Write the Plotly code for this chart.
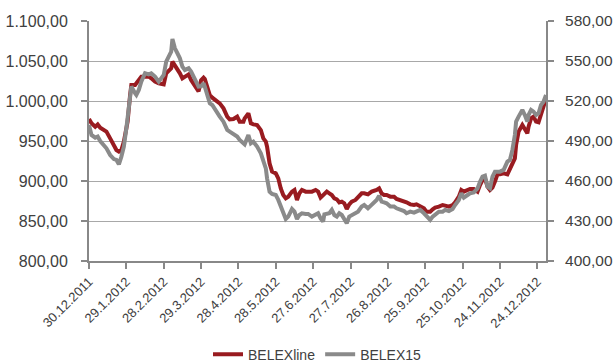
import pandas as pd
import plotly.graph_objects as go

# Trading-day offsets (days after 30.12.2011) and index closes
day_offsets = [
    0, 2, 5, 7, 9, 12, 14, 17, 20, 22, 24, 26, 28, 30, 31, 33, 34, 37, 38, 40,
    42, 45, 48, 50, 53, 56, 60, 62, 64, 66, 67, 69, 71, 73, 75, 77, 80, 82, 86, 88,
    90, 92, 93, 95, 97, 99, 102, 105, 108, 111, 113, 116, 119, 121, 124, 125, 128, 130, 132, 135,
    138, 140, 142, 143, 145, 147, 150, 152, 154, 156, 158, 160, 163, 165, 167, 169, 171, 174, 176, 179,
    182, 184, 186, 188, 189, 191, 193, 195, 197, 199, 201, 203, 205, 207, 209, 211, 214, 216, 219, 221,
    224, 227, 229, 231, 233, 235, 237, 239, 242, 245, 247, 250, 253, 255, 258, 261, 263, 266, 269, 271,
    274, 276, 278, 281, 284, 286, 289, 292, 294, 297, 299, 301, 304, 306, 309, 312, 314, 316, 318, 320,
    322, 324, 326, 328, 330, 333, 336, 338, 340, 342, 343, 345, 348, 350, 352, 353, 355, 357, 359, 361,
    363, 365, 366, 367,
]

belexline = [
    977.5, 972.1, 967.9, 970.8, 966.7, 963.7, 961.7, 953.3, 942.9, 938.7,
    936.7, 938.7, 949.2, 963.7, 974.2, 1007.5, 1020.0, 1020.0, 1022.1, 1024.2,
    1030.4, 1030.4, 1030.4, 1028.3, 1024.2, 1022.1, 1020.8, 1034.6, 1038.7, 1040.8,
    1049.2, 1045.0, 1040.8, 1034.6, 1028.3, 1030.4, 1033.3, 1026.3, 1017.9, 1012.0,
    1026.0, 1029.2, 1027.5, 1017.9, 1007.5, 1004.2, 1001.2, 997.1, 990.8, 980.4,
    977.1, 977.5, 980.4, 974.2, 974.2, 978.3, 984.6, 972.1, 970.8, 970.0,
    963.7, 953.3, 949.2, 942.9, 922.1, 911.7, 909.6, 903.3, 890.8, 882.5,
    878.3, 880.4, 886.7, 888.8, 876.3, 884.6, 888.8, 886.7, 886.7, 886.7,
    888.8, 886.7, 879.2, 882.5, 884.6, 886.7, 884.6, 882.5, 878.3, 877.1,
    873.3, 874.2, 872.1, 865.0, 870.8, 874.2, 876.3, 880.4, 884.6, 884.6,
    883.3, 886.7, 887.5, 888.8, 890.8, 884.6, 882.5, 882.5, 880.4, 880.4,
    877.5, 876.3, 875.0, 873.3, 870.8, 870.0, 870.8, 867.9, 865.8, 861.7,
    861.7, 864.6, 866.7, 867.9, 870.0, 869.2, 867.9, 870.0, 873.3, 880.4,
    888.8, 886.7, 888.8, 890.0, 890.0, 886.7, 895.0, 901.2, 903.3, 892.9,
    888.8, 891.7, 899.2, 908.3, 908.3, 909.6, 908.3, 915.0, 919.2, 928.3,
    945.0, 961.7, 970.0, 963.7, 959.6, 968.0, 978.3, 980.4, 974.2, 973.3,
    982.5, 990.8, 998.3, 1003.0,
]

belex15 = [
    502.0, 494.5, 492.5, 493.3, 490.0, 487.0, 484.5, 479.5, 476.5, 475.8,
    472.5, 478.3, 485.8, 499.5, 508.3, 524.5, 530.8, 525.8, 524.5, 528.3,
    534.5, 540.8, 540.0, 540.8, 538.3, 534.5, 539.5, 549.5, 553.3, 557.0,
    566.5, 559.5, 555.8, 552.0, 545.8, 543.3, 544.5, 542.0, 534.5, 530.8,
    531.0, 533.3, 530.8, 524.5, 518.3, 517.0, 512.0, 508.3, 504.5, 498.3,
    497.0, 495.0, 493.3, 490.8, 488.3, 487.5, 494.5, 488.3, 489.5, 485.8,
    480.8, 474.5, 469.5, 462.0, 452.0, 450.3, 449.5, 445.8, 440.8, 437.0,
    431.5, 433.3, 439.0, 437.0, 431.5, 434.5, 435.8, 435.3, 435.3, 433.3,
    434.5, 435.8, 432.0, 429.5, 435.0, 435.8, 435.8, 438.3, 434.5, 433.3,
    435.8, 434.5, 431.5, 428.3, 433.3, 434.5, 435.8, 437.0, 440.8, 442.0,
    439.5, 442.0, 444.5, 445.8, 449.0, 444.5, 444.0, 443.3, 440.8, 440.8,
    439.5, 438.3, 437.5, 435.8, 437.0, 436.3, 437.0, 438.3, 435.8, 433.3,
    430.8, 433.3, 434.5, 437.0, 437.0, 438.3, 437.5, 439.0, 442.0, 445.8,
    450.8, 447.5, 449.5, 450.8, 451.5, 454.5, 459.5, 463.3, 464.0, 455.8,
    454.5, 463.3, 467.0, 467.0, 467.0, 468.3, 474.5, 475.8, 483.3, 494.5,
    504.5, 508.3, 513.3, 509.5, 504.5, 509.5, 513.3, 512.0, 509.5, 510.8,
    517.0, 519.5, 523.3, 524.5,
]

tick_labels = [
    "30.12.2011", "29.1.2012", "28.2.2012", "29.3.2012", "28.4.2012",
    "28.5.2012", "27.6.2012", "27.7.2012", "26.8.2012", "25.9.2012",
    "25.10.2012", "24.11.2012", "24.12.2012",
]

start = pd.Timestamp("2011-12-30")
dates = start + pd.to_timedelta(day_offsets, unit="D")
tick_dates = pd.to_datetime(tick_labels, format="%d.%m.%Y")

RED = "#991B20"
GREY = "#8A8A8A"
AXIS = "#888888"
GRID = "#A8A8A8"
TEXT = "#404040"
FONT = "Liberation Sans, Arial, sans-serif"

fig = go.Figure()
fig.add_trace(go.Scatter(
    x=dates, y=belexline, name="BELEXline", mode="lines",
    line=dict(color=RED, width=4), yaxis="y",
))
fig.add_trace(go.Scatter(
    x=dates, y=belex15, name="BELEX15", mode="lines",
    line=dict(color=GREY, width=4), yaxis="y2",
))

axis_common = dict(
    zeroline=False, automargin=False,
    showline=True, linecolor=AXIS, linewidth=2,
    ticks="outside", ticklen=6, tickwidth=1.5, tickcolor=AXIS,
)

fig.update_layout(
    width=613, height=362,
    margin=dict(l=89, r=67, t=21, b=101, autoexpand=False),
    paper_bgcolor="white", plot_bgcolor="white",
    separators=",.",
    font=dict(family=FONT, color=TEXT),
    showlegend=True,
    legend=dict(
        orientation="h", x=0.5, xanchor="center", y=-0.39, yanchor="middle",
        font=dict(size=14, color=TEXT), bgcolor="rgba(0,0,0,0)",
        itemwidth=30, tracegroupgap=0,
    ),
    xaxis=dict(
        type="date",
        range=[start, start + pd.Timedelta(days=367)],
        tickvals=tick_dates, ticktext=tick_labels,
        tickangle=-45, tickfont=dict(size=13, color=TEXT),
        showgrid=False, **axis_common,
    ),
    yaxis=dict(
        range=[800, 1100], tick0=800, dtick=50, tickformat=",.2f",
        tickfont=dict(size=16, color=TEXT),
        showgrid=True, gridcolor=GRID, gridwidth=1.2,
        ticklabelstandoff=10, **axis_common,
    ),
    yaxis2=dict(
        range=[400, 580], tick0=400, dtick=30, tickformat=",.2f",
        overlaying="y", side="right",
        tickfont=dict(size=15.5, color=TEXT),
        showgrid=False, ticklabelstandoff=8, **axis_common,
    ),
)

fig.write_html("out.html")
